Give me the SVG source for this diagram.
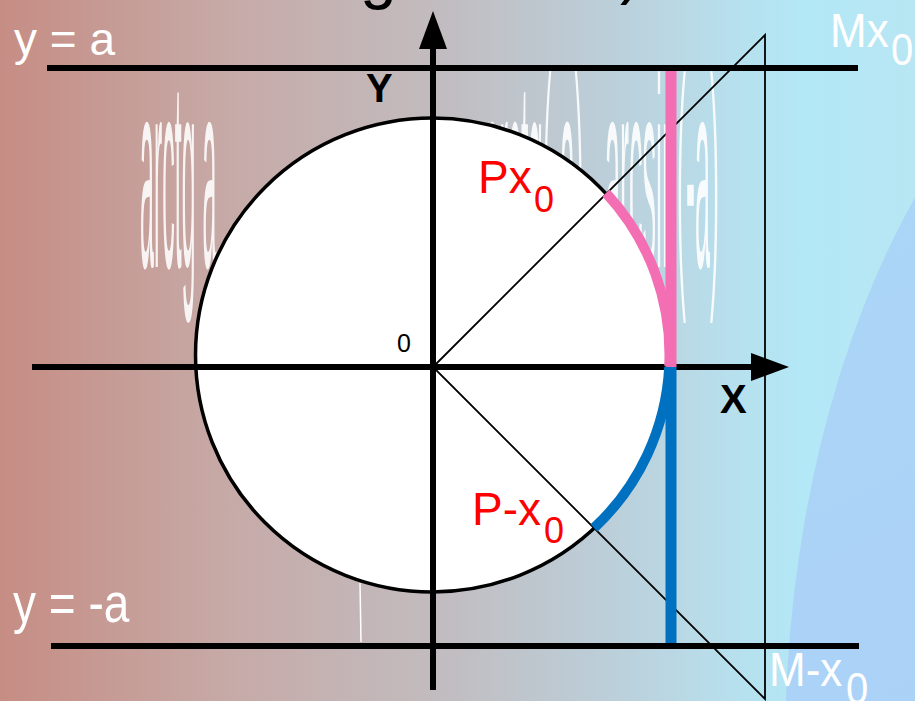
<svg xmlns="http://www.w3.org/2000/svg" width="915" height="701" viewBox="0 0 915 701">
  <defs>
    <linearGradient id="bg" x1="0" y1="0" x2="1" y2="0">
      <stop offset="0" stop-color="#C68D84"/>
      <stop offset="0.25" stop-color="#C6AAA7"/>
      <stop offset="0.47" stop-color="#C2BBBE"/>
      <stop offset="0.65" stop-color="#BCCDD7"/>
      <stop offset="0.78" stop-color="#B8DDEA"/>
      <stop offset="0.88" stop-color="#B3E8F7"/>
      <stop offset="1" stop-color="#B8E6F3"/>
    </linearGradient>
    <linearGradient id="blob" x1="0" y1="0" x2="0.3" y2="1">
      <stop offset="0" stop-color="#ABD8F6"/>
      <stop offset="0.5" stop-color="#ABD1F7"/>
      <stop offset="1" stop-color="#C5C6F5"/>
    </linearGradient>
    <marker id="arrow" markerUnits="userSpaceOnUse" viewBox="0 0 38 28" markerWidth="38" markerHeight="28" refX="1" refY="14" orient="auto">
      <path d="M0,0 L38,14 L0,28 Z" fill="#000"/>
    </marker>
    <style>
      .ghost { font-family: "Liberation Sans", Arial, sans-serif; fill: #FFFFFF; fill-opacity: 0.88; }
      .axis { stroke: #000; stroke-width: 6; fill: none; }
      .thin { stroke: #000; stroke-width: 1.8; fill: none; }
      .lbl { font-family: "Liberation Sans", Arial, sans-serif; }
      .white { fill: #FFFFFF; }
      .red { fill: #FF0000; }
      .bold { font-weight: bold; fill: #000; }
    </style>
  </defs>

  <g id="background">
    <rect x="0" y="0" width="915" height="701" fill="url(#bg)"/>
    <ellipse cx="1250" cy="750" rx="465" ry="797" fill="url(#blob)"/>
    <text class="lbl" x="360" y="-4" font-size="66" fill="#000">g</text>
    <text class="lbl" x="620" y="-9" font-size="66" fill="#000">)</text>
  </g>

  <g id="ghost-texts">
    <text class="ghost" font-size="25" transform="translate(140,267) scale(1,10.8)">arctg a</text>
    <text class="ghost" font-size="26" transform="translate(485,267) scale(1,10.4)">arctg(-a)</text>
    <text class="ghost" font-size="27" transform="translate(605,267) scale(1,10)">arcsin(-a)</text>
    <line x1="360" y1="583" x2="361" y2="642" stroke="#FFFFFF" stroke-width="1.5"/>
  </g>

  <g id="circle">
    <circle cx="432.5" cy="355" r="237" fill="#FFFFFF" stroke="#000" stroke-width="3.5"/>
  </g>

  <g id="connectors">
    <path class="thin" d="M433,367 L765,35 L765,699 Z"/>
    <line id="line-y-a" class="axis" x1="47" y1="68" x2="858" y2="68"/>
    <line id="line-y-minus-a" class="axis" x1="51" y1="646" x2="859" y2="646"/>
    <line id="axis-x" class="axis" x1="32" y1="367" x2="752" y2="367" marker-end="url(#arrow)"/>
    <line id="axis-y" class="axis" x1="433" y1="690" x2="433" y2="48" marker-end="url(#arrow)"/>
    <path id="pink-arc" d="M606,193 A237,237 0 0,1 669.2,366" fill="none" stroke="#F46EB3" stroke-width="10"/>
    <line id="pink-vertical" x1="671" y1="71" x2="671" y2="367" stroke="#F46EB3" stroke-width="11"/>
    <path id="blue-arc" d="M669.2,367 A237,237 0 0,1 594,528" fill="none" stroke="#0070C0" stroke-width="10"/>
    <line id="blue-vertical" x1="671" y1="367" x2="671" y2="643" stroke="#0070C0" stroke-width="11"/>
  </g>

  <g id="label-y-a">
    <text class="lbl white" x="14" y="55" font-size="46">y = a</text>
  </g>
  <g id="label-y-minus-a">
    <text class="lbl white" font-size="46" transform="translate(13,622) scale(1,1.2)">y = -a</text>
  </g>
  <g id="label-Mx0">
    <text class="lbl white" font-size="44" transform="translate(830,47) scale(1,1.1)">Mx<tspan x="61" y="16.4" font-size="40">0</tspan></text>
  </g>
  <g id="label-M-x0">
    <text class="lbl white" font-size="44" transform="translate(769,686) scale(1,1.1)">M-x<tspan x="77" y="16" font-size="40">0</tspan></text>
  </g>
  <g id="label-Px0">
    <text class="lbl red" x="478" y="193" font-size="46">Px<tspan x="534" y="212" font-size="36">0</tspan></text>
  </g>
  <g id="label-P-x0">
    <text class="lbl red" x="472" y="525" font-size="46">P-x<tspan x="544" y="543" font-size="36">0</tspan></text>
  </g>
  <g id="label-origin">
    <text class="lbl" font-size="25" fill="#000" x="397" y="352">0</text>
  </g>
  <g id="label-X">
    <text class="lbl bold" x="720" y="413" font-size="40">X</text>
  </g>
  <g id="label-Y">
    <text class="lbl bold" x="366" y="102" font-size="40">Y</text>
  </g>
</svg>
